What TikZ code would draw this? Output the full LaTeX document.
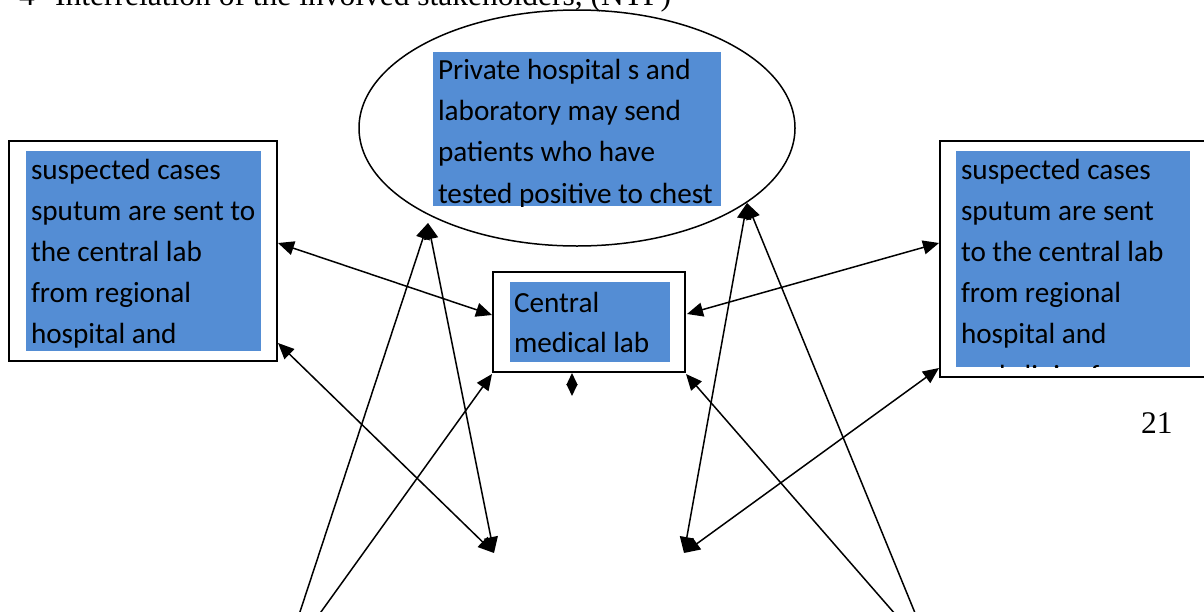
\documentclass[tikz,border=0pt]{standalone}
\usepackage{fontspec}
\setmainfont{Liberation Serif}
\newfontfamily\bodyfont{Carlito}
\usetikzlibrary{arrows.meta,shapes.geometric}
\definecolor{boxblue}{RGB}{84,141,212}
\begin{document}
\begin{tikzpicture}[x=1pt,y=-1pt,
  >={Triangle[length=16pt,width=14pt]},
  frame/.style={draw=black, inner sep=0pt, outer sep=0pt},
  bluebox/.style={fill=boxblue, draw=none, inner sep=0pt, outer sep=0pt},
  txt/.style={anchor=north west, inner sep=0pt, outer sep=0pt, align=left,
    font=\bodyfont\fontsize{29.2}{41.2}\selectfont},
  serif/.style={anchor=base west, inner sep=0pt, font=\fontsize{31.5}{38}\selectfont},
  conn/.style={line width=1.5pt}]
\useasboundingbox (0,0) rectangle (1204,611);
\clip (0,0) rectangle (1204,611);
\fill[white] (0,0) rectangle (1204,611);

% header (cut at the top) and page number
\node[serif] (hnum) at (19,5.5) {4};
\node[serif] (hdr) at (55,5.5) {Interrelation of the involved stakeholders, (NTP)};
\node[serif] (pg) at (1141,433) {21};

% ellipse
\node[frame, ellipse, line width=1.5pt, minimum width=436pt, minimum height=236pt] (ell) at (577,128) {};
\node[bluebox, minimum width=288pt, minimum height=154pt] (eblue) at (577,129) {};
\begin{scope}
\clip (433,52) rectangle (721,206);
\node[txt] (etext) at (438,79.5-28.84) {\strut Private hospital s and\\laboratory may send\\patients who have\\tested positive to chest\\x-ray};
\end{scope}

% left box
\node[frame, line width=2pt, minimum width=268pt, minimum height=220pt] (lbox) at (143,251) {};
\node[bluebox, minimum width=235pt, minimum height=200pt] (lblue) at (143.5,251) {};
\begin{scope}
\clip (26,151) rectangle (261,351);
\node[txt] (ltext) at (31,179-28.84) {\strut suspected cases\\sputum are sent to\\the central lab\\from regional\\hospital and\\polyclinics};
\end{scope}

% right box
\node[frame, line width=2pt, minimum width=270pt, minimum height=236pt] (rbox) at (1075,259) {};
\node[bluebox, minimum width=234pt, minimum height=216pt] (rblue) at (1073,259) {};
\begin{scope}
\clip (956,151) rectangle (1190,367);
\node[txt] (rtext) at (961,179-28.84) {\strut suspected cases\\sputum are sent\\to the central lab\\from regional\\hospital and\\and clinics from};
\end{scope}

% central box
\node[frame, line width=1.5pt, minimum width=192pt, minimum height=100pt] (cbox) at (589,322) {};
\node[bluebox, minimum width=160pt, minimum height=80pt] (cblue) at (590,322) {};
\node[txt, font=\bodyfont\fontsize{29.2}{40}\selectfont] (ctext) at (514,312-28) {\strut Central\\medical lab};

% connector end points
\coordinate (lTop) at (278,243);
\coordinate (lBot) at (278,343);
\coordinate (cL) at (492,315);
\coordinate (cR) at (687,314);
\coordinate (cBL) at (492,374);
\coordinate (cBR) at (686,374);
\coordinate (cB) at (572,373);
\coordinate (cStub) at (572,396);
\coordinate (eL) at (428,223);
\coordinate (eR) at (747,203);
\coordinate (pL) at (494,553);
\coordinate (pR) at (684,553);
\coordinate (rTop) at (939,243);
\coordinate (rBot) at (939,368);
\coordinate (offA) at (294,630);
\coordinate (offB) at (308,630);
\coordinate (offC) at (909,630);
\coordinate (offD) at (922,630);

% connectors
\draw[conn,<->] (lTop) -- (cL);
\draw[conn,<->] (lBot) -- (pL);
\draw[conn,<->] (eL) -- (pL);
\draw[conn,->] (offA) -- (eL);
\draw[conn,->] (offB) -- (cBL);
\draw[conn,->] (offC) -- (cBR);
\draw[conn,->] (offD) -- (eR);
\draw[conn,<->] (eR) -- (pR);
\draw[conn,<->] (rTop) -- (cR);
\draw[conn,<->] (rBot) -- (pR);
\draw[line width=1.5pt,{Triangle[length=12pt,width=11pt]}-{Triangle[length=12pt,width=11pt]}] (cB) -- (cStub);
\end{tikzpicture}
\end{document}
